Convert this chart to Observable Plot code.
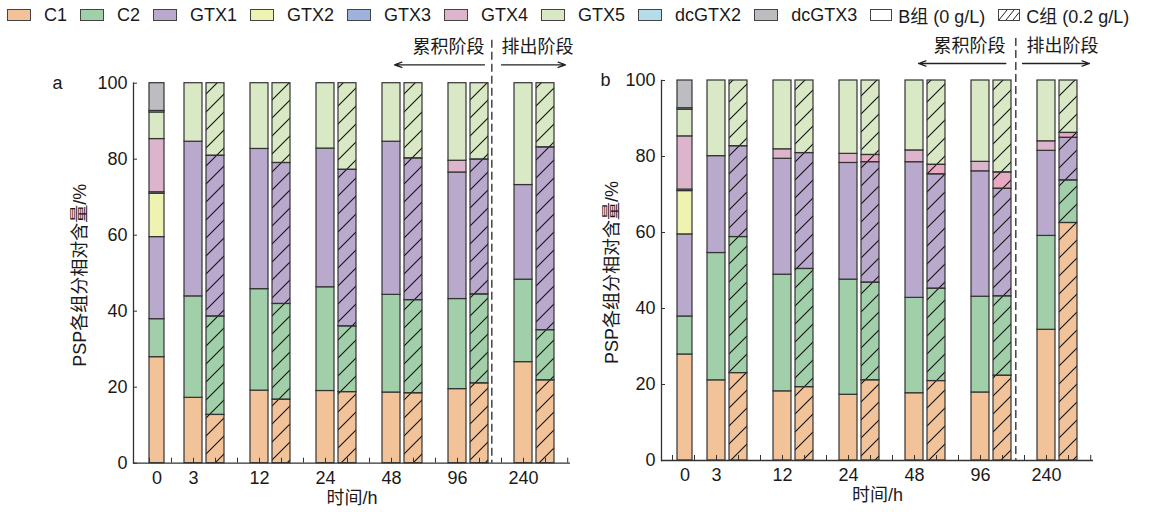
<!DOCTYPE html>
<html><head><meta charset="utf-8">
<script src="https://cdn.jsdelivr.net/npm/d3@7"></script>
<script src="https://cdn.jsdelivr.net/npm/@observablehq/plot@0.6"></script>
<style>
body{margin:0;background:#fff;font-family:"Liberation Sans",Arial,"Noto Sans CJK SC",sans-serif;color:#1a1a1a}
#legend{display:flex;align-items:center;width:1171px;height:30px;font-size:18px;padding-left:7px;box-sizing:border-box;white-space:nowrap}
.item{display:flex;align-items:center;margin-right:13px;flex:none}
.sw{width:24px;height:12px;border:1px solid #444;box-sizing:border-box;margin-right:13px;display:block;flex:none}
#row{display:flex;width:1171px}
#row svg{flex:none}
</style></head><body>
<div id="legend"></div>
<div id="row"></div>
<script>
// ---------- data ----------
const components = ["C1","C2","GTX1","GTX2","GTX3","GTX4","GTX5","dcGTX2","dcGTX3"];
const colors = ["#f2c399","#a1cfa9","#b9a9cd","#eef3b1","#9fb1dd","#dcb5cd","#d9e8c5","#b6dbe9","#bdbcc1"];
const gtx4Hatched = "#e9a9c3";
const timesB = ["0","3","12","24","48","96","240"];
const timesC = ["3","12","24","48","96","240"];
const groupLabels = ["B组 (0 g/L)","C组 (0.2 g/L)"];
const yTicks = [0,20,40,60,80,100];
const stageSplit = "s96";
const stageLabels = ["累积阶段","排出阶段"];
// rows = time points, columns = components (C1,C2,GTX1,GTX2,GTX3,GTX4,GTX5,dcGTX2,dcGTX3)
const aB = [
  [27.9,10.0,21.6,11.4,0.4,14.0,7.0,0.4,7.3],
  [17.2,26.7,40.7,0,0,0,15.4,0,0],
  [19.1,26.7,36.9,0,0,0,17.3,0,0],
  [19.0,27.3,36.5,0,0,0,17.2,0,0],
  [18.6,25.7,40.3,0,0,0,15.4,0,0],
  [19.5,23.7,33.3,0,0,3.1,20.4,0,0],
  [26.6,21.7,24.9,0,0,0,26.8,0,0]
];
const aC = [
  [12.7,25.9,42.3,0,0,0,19.1,0,0],
  [16.7,25.2,37.1,0,0,0,21.0,0,0],
  [18.7,17.3,41.2,0,0,0,22.8,0,0],
  [18.4,24.5,37.3,0,0,0,19.8,0,0],
  [21.0,23.4,35.5,0,0,0,20.1,0,0],
  [21.8,13.2,48.1,0,0,0,16.9,0,0]
];
const bB = [
  [27.9,10.0,21.6,11.4,0.4,14.0,7.0,0.4,7.3],
  [21.1,33.5,25.5,0,0,0,19.9,0,0],
  [18.2,30.7,30.5,0,0,2.5,18.1,0,0],
  [17.3,30.3,30.7,0,0,2.4,19.3,0,0],
  [17.7,25.1,35.7,0,0,3.1,18.4,0,0],
  [17.9,25.2,33.0,0,0,2.5,21.4,0,0],
  [34.4,24.7,22.4,0,0,2.5,16.0,0,0]
];
const bC = [
  [23.0,35.8,23.9,0,0,0,17.3,0,0],
  [19.3,31.1,30.5,0,0,0,19.1,0,0],
  [21.1,25.7,31.7,0,0,1.9,19.6,0,0],
  [20.9,24.3,30.1,0,0,2.5,22.2,0,0],
  [22.3,20.9,28.3,0,0,4.3,24.2,0,0],
  [62.5,11.2,11.2,0,0,1.3,13.8,0,0]
];

// ---------- legend ----------
const legend = document.getElementById("legend");
components.forEach((c,i)=>{
  const it = document.createElement("div"); it.className="item";
  it.innerHTML = `<span class="sw" style="background:${colors[i]}"></span><span>${c}</span>`;
  legend.appendChild(it);
});
{
  const it = document.createElement("div"); it.className="item"; it.style.marginRight="13px";
  it.innerHTML = `<span class="sw" style="width:22px;background:#fff;margin-right:6px"></span><span>${groupLabels[0]}</span>`;
  legend.appendChild(it);
  const it2 = document.createElement("div"); it2.className="item";
  it2.innerHTML = `<svg width="22" height="12" style="margin-right:6px;display:block"><rect x="0.5" y="0.5" width="21" height="11" fill="#fff" stroke="#444"/><path d="M1,11 L9,1 M8,11 L16,1 M15,11 L21,3.5" stroke="#222" stroke-width="1"/></svg><span>${groupLabels[1]}</span>`;
  legend.appendChild(it2);
}

// ---------- panels ----------
const FONT = '"Liberation Sans",Arial,"Noto Sans CJK SC",sans-serif';
function panel(o){
  const rows0=[], rowsB=[], rowsC=[];
  timesB.forEach((t,i)=>components.forEach((c,j)=>{
    const v=o.B[i][j]; if(!(v>0)) return;
    (t==="0"?rows0:rowsB).push({slot: t==="0"?"0":t+"B", comp:c, value:v, fill:colors[j]});
  }));
  timesC.forEach((t,i)=>components.forEach((c,j)=>{
    const v=o.C[i][j]; if(!(v>0)) return;
    rowsC.push({slot:t+"C", comp:c, value:v, fill: c==="GTX4"?gtx4Hatched:colors[j]});
  }));
  const slots=["0","s0"]; timesC.forEach(t=>slots.push(t+"B",t+"C","s"+t)); slots.pop();
  const st = extra => Plot.stackY({x:"slot", y:"value", z:"comp", order:components, ...extra});
  const ink="#333";
  const mid = {textAnchor:"middle", lineAnchor:"middle", fontSize:18};
  const svg = Plot.plot({
    width:o.width, height:482,
    marginLeft:o.ml, marginRight:o.mr, marginTop:o.mt, marginBottom:o.mb,
    style:{fontFamily:FONT, fontSize:"18px", color:"#1a1a1a", overflow:"visible", background:"transparent"},
    x:{type:"band", domain:slots, paddingInner:0.19, paddingOuter:o.po, align:o.align},
    y:{domain:[0,100]},
    color:{type:"identity"},
    marks:[
      Plot.barY(rows0, st({fill:"fill", stroke:ink, strokeWidth:1.2, insetLeft:1.5, insetRight:1.5, dx:o.dx0})),
      Plot.barY(rowsB, st({fill:"fill", stroke:ink, strokeWidth:1.2})),
      Plot.barY(rowsC, st({fill:"fill"})),
      Plot.barY(rowsC, st({fill:`url(#${o.id})`, stroke:ink, strokeWidth:1.2})),
      Plot.ruleY([0], {stroke:ink, strokeWidth:1.3}),
      Plot.frame({anchor:"left", stroke:ink, strokeWidth:1.3}),
      Plot.axisY({ticks:yTicks, tickSize:-4, tickFormat:()=>"", label:null, stroke:ink}),
      Plot.axisY({ticks:yTicks, tickSize:0, tickPadding:6, label:null, fontSize:18}),
      Plot.axisX({ticks:slots, tickSize:-5, tickFormat:()=>"", label:null, stroke:ink}),
      Plot.axisX({ticks:["240C"], tickSize:-5, dx:22.2, tickFormat:()=>"", label:null, stroke:ink}),
      Plot.axisX({ticks:slots.filter(s=>s.endsWith("B")), tickSize:0, tickPadding:8, tickFormat:s=>s.slice(0,-1), label:null, fontSize:18}),
      Plot.axisX({ticks:["0"], tickSize:0, tickPadding:8, dx:o.dx0, label:null, fontSize:18}),
      Plot.ruleX([stageSplit], {dx:o.splitDx, stroke:"#444", strokeWidth:1.5, strokeDasharray:"8,4", insetTop:o.ruleTop}),
      Plot.text([{slot:stageSplit, t:stageLabels[0]}], {x:"slot", text:"t", frameAnchor:"top", dx:o.t1dx, dy:o.tdy, ...mid}),
      Plot.text([{slot:stageSplit, t:stageLabels[1]}], {x:"slot", text:"t", frameAnchor:"top", dx:o.t2dx, dy:o.tdy, ...mid}),
      Plot.arrow([{from:stageSplit, to:"48B"}], {x1:"from", x2:"to", y1:100, y2:100, dy:o.ady, insetStart:o.a1s, insetEnd:o.a1e, stroke:"#222", strokeWidth:1.3, headLength:9, headAngle:40}),
      Plot.arrow([{from:stageSplit, to:"240C"}], {x1:"from", x2:"to", y1:100, y2:100, dy:o.ady, insetStart:o.a2s, insetEnd:o.a2e, stroke:"#222", strokeWidth:1.3, headLength:9, headAngle:40}),
      Plot.text([o.letter], {frameAnchor:"top-left", dx:o.ldx, dy:0, ...mid}),
      Plot.text(["PSP各组分相对含量/%"], {frameAnchor:"left", rotate:-90, dx:o.ytdx, dy:2, ...mid}),
      Plot.text(["时间/h"], {frameAnchor:"bottom", dy:35, ...mid})
    ]
  });
  const defs = d3.select(svg).insert("defs", ":first-child");
  const pat = defs.append("pattern").attr("id",o.id).attr("patternUnits","userSpaceOnUse").attr("width",18).attr("height",18);
  pat.append("path").attr("d","M-2,2 L2,-2 M0,18 L18,0 M16,20 L20,16").attr("stroke","#111").attr("stroke-width",1.1);
  return svg;
}
const row = document.getElementById("row");
row.appendChild(panel({id:"hatchA", B:aB, C:aC, width:585, ml:133, mr:15, mt:52.7, mb:49.3, po:0.45, align:0.30, dx0:7.5,
  splitDx:-9.7, ruleTop:-43, t1dx:-53, t2dx:36, tdy:-36, ady:-18.4, a1s:17, a1e:3, a2s:0, a2e:-20, letter:"a", ldx:-76, ytdx:-53}));
row.appendChild(panel({id:"hatchB", B:bB, C:bC, width:586, ml:76, mr:78, mt:50, mb:52, po:0.338, align:0.133, dx0:12.5,
  splitDx:-8.7, ruleTop:-42, t1dx:-55, t2dx:38, tdy:-34, ady:-17, a1s:18.7, a1e:4, a2s:-2, a2e:-21, letter:"b", ldx:-56, ytdx:-49}));
</script>
</body></html>
